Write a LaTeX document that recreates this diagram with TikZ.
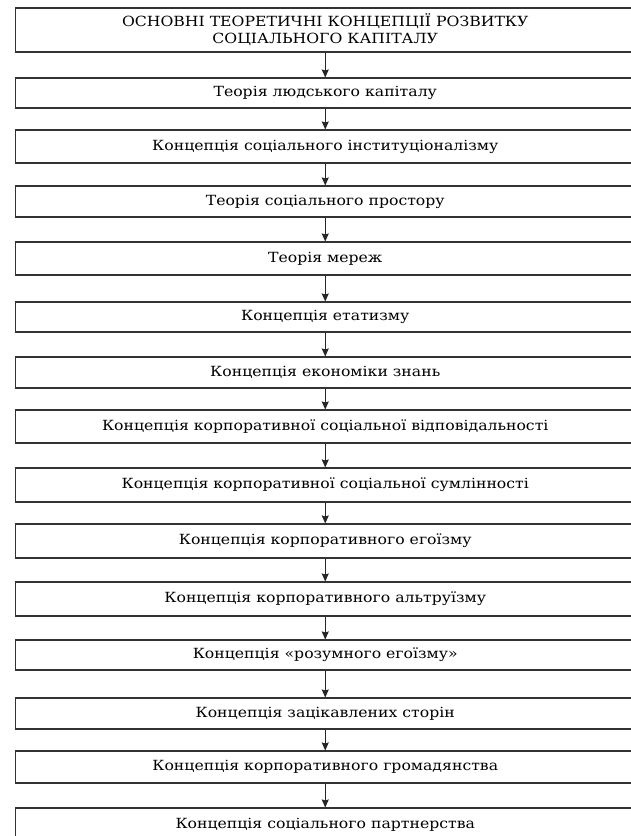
\documentclass[tikz,border=0pt]{standalone}
\usepackage{fontspec}
\setmainfont{DejaVu Serif}[FakeStretch=1.12]
\usetikzlibrary{arrows.meta}
\tikzset{
  box/.style={draw=black!80, line width=1.1pt, minimum width=619.5pt, inner sep=0pt, align=center, font=\fontsize{14}{17}\selectfont, text=black},
  conn/.style={draw=black!85, line width=0.9pt, -{Stealth[length=8pt,width=7pt,inset=1pt]}}
}
\begin{document}
\begin{tikzpicture}[x=1pt,y=-1pt]
\useasboundingbox (0,0) rectangle (631,836);
\clip (0,0) rectangle (631,836);
\fill[white] (0,0) rectangle (631,836);
\node[box, minimum height=44pt] (b1) at (325.25,30) {ОСНОВНІ ТЕОРЕТИЧНІ КОНЦЕПЦІЇ РОЗВИТКУ\\СОЦІАЛЬНОГО КАПІТАЛУ};
\node[box, minimum height=30pt] (b2) at (325.25,93) {Теорія людського капіталу};
\node[box, minimum height=33pt] (b3) at (325.25,146.5) {Концепція соціального інституціоналізму};
\node[box, minimum height=31pt] (b4) at (325.25,201.5) {Теорія соціального простору};
\node[box, minimum height=33pt] (b5) at (325.25,258.5) {Теорія мереж};
\node[box, minimum height=30pt] (b6) at (325.25,317) {Концепція етатизму};
\node[box, minimum height=31pt] (b7) at (325.25,372.5) {Концепція економіки знань};
\node[box, minimum height=33pt] (b8) at (325.25,426.5) {Концепція корпоративної соціальної відповідальності};
\node[box, minimum height=34pt] (b9) at (325.25,485) {Концепція корпоративної соціальної сумлінності};
\node[box, minimum height=34pt] (b10) at (325.25,541) {Концепція корпоративного егоїзму};
\node[box, minimum height=34pt] (b11) at (325.25,599) {Концепція корпоративного альтруїзму};
\node[box, minimum height=30pt] (b12) at (325.25,655) {Концепція «розумного егоїзму»};
\node[box, minimum height=31pt] (b13) at (325.25,713.5) {Концепція зацікавлених сторін};
\node[box, minimum height=32pt] (b14) at (325.25,767) {Концепція корпоративного громадянства};
\node[box, minimum height=33pt] (b15) at (325.25,824.5) {Концепція соціального партнерства};
\foreach \a/\b in {b1/b2,b2/b3,b3/b4,b4/b5,b5/b6,b6/b7,b7/b8,b8/b9,b9/b10,b10/b11,b11/b12,b12/b13,b13/b14,b14/b15}
  \draw[conn] (\a.south) -- (\b.north);
\end{tikzpicture}
\end{document}
